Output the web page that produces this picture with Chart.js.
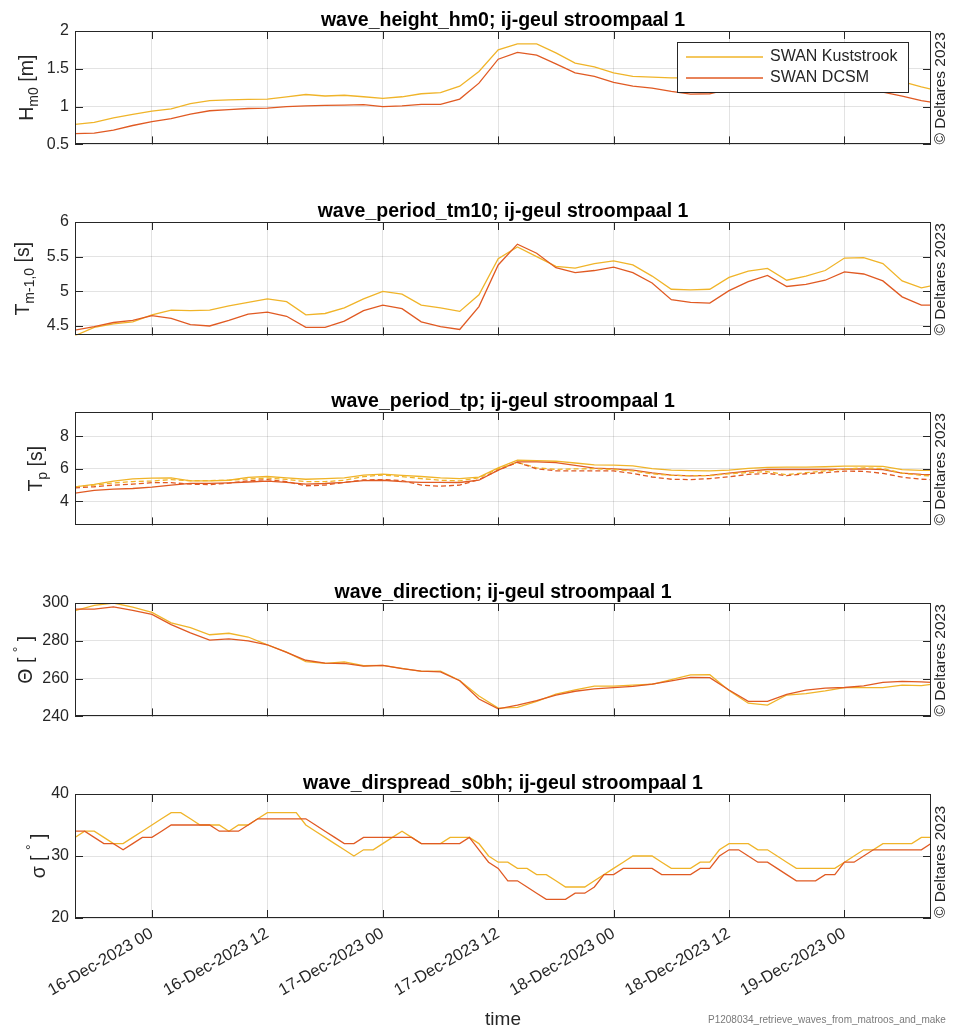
<!DOCTYPE html>
<html>
<head>
<meta charset="utf-8">
<script src="https://cdn.jsdelivr.net/npm/chart.js@4.4.1/dist/chart.umd.min.js"></script>
<style>
  html, body { margin: 0; padding: 0; background: #fff; }
  #wrap { position: relative; width: 955px; height: 1032px; overflow: hidden; }
  #wrap canvas { position: absolute; left: 0; }
</style>
</head>
<body>
<div id="wrap"></div>
<script>
// time in hours since 15-Dec-2023 16:00
const hours2 = [0,2,4,6,8,10,12,14,16,18,20,22,24,26,28,30,32,34,36,38,40,42,44,46,48,50,52,54,56,58,60,62,64,66,68,70,72,74,76,78,80,82,84,86,88,89];
const hours1 = [0,1,2,3,4,5,6,7,8,9,10,11,12,13,14,15,16,17,18,19,20,21,22,23,24,25,26,27,28,29,30,31,32,33,34,35,36,37,38,39,40,41,42,43,44,45,46,47,48,49,50,51,52,53,54,55,56,57,58,59,60,61,62,63,64,65,66,67,68,69,70,71,72,73,74,75,76,77,78,79,80,81,82,83,84,85,86,87,88,89];
const xTickHours = [8, 20, 32, 44, 56, 68, 80];
const xTickLabels = ['16-Dec-2023 00','16-Dec-2023 12','17-Dec-2023 00','17-Dec-2023 12','18-Dec-2023 00','18-Dec-2023 12','19-Dec-2023 00'];

const seriesNames = ['SWAN Kuststrook', 'SWAN DCSM'];

// wave_height_hm0 [m]
const hsKust = [0.764,0.79,0.85,0.897,0.94,0.97,1.04,1.08,1.09,1.095,1.10,1.13,1.16,1.14,1.15,1.13,1.11,1.13,1.17,1.185,1.27,1.465,1.75,1.83,1.83,1.71,1.575,1.525,1.445,1.40,1.39,1.38,1.38,1.40,1.42,1.44,1.45,1.46,1.46,1.45,1.43,1.40,1.37,1.33,1.26,1.23];
const hsDcsm = [0.642,0.65,0.69,0.75,0.80,0.84,0.90,0.945,0.96,0.975,0.98,1.0,1.01,1.015,1.02,1.027,1.0,1.01,1.03,1.03,1.10,1.31,1.627,1.716,1.68,1.566,1.445,1.40,1.32,1.27,1.245,1.20,1.165,1.17,1.23,1.28,1.30,1.31,1.31,1.30,1.28,1.25,1.19,1.14,1.08,1.06];

// wave_period_tm10 [s]
const tmKust = [4.36,4.48,4.53,4.56,4.66,4.73,4.72,4.73,4.79,4.84,4.89,4.85,4.66,4.68,4.76,4.89,5.0,4.96,4.80,4.76,4.71,4.95,5.47,5.64,5.50,5.36,5.335,5.40,5.44,5.38,5.22,5.03,5.02,5.03,5.20,5.29,5.33,5.16,5.22,5.30,5.48,5.485,5.40,5.15,5.05,5.08];
const tmDcsm = [4.44,4.49,4.55,4.58,4.65,4.61,4.52,4.50,4.58,4.67,4.70,4.64,4.48,4.48,4.57,4.72,4.80,4.75,4.56,4.49,4.45,4.78,5.38,5.68,5.55,5.34,5.27,5.30,5.35,5.27,5.12,4.88,4.84,4.83,5.01,5.14,5.23,5.07,5.10,5.16,5.28,5.25,5.15,4.92,4.80,4.80];

// wave_period_tp [s] (solid and dashed variants)
const tpKust = [4.89,5.05,5.25,5.38,5.43,5.45,5.26,5.26,5.30,5.47,5.53,5.45,5.36,5.40,5.45,5.62,5.68,5.60,5.53,5.45,5.40,5.49,6.06,6.53,6.51,6.47,6.36,6.25,6.23,6.19,6.02,5.92,5.89,5.87,5.92,6.03,6.09,6.11,6.11,6.13,6.17,6.17,6.15,5.95,5.91,5.91];
const tpDcsm = [4.51,4.68,4.75,4.79,4.87,5.0,5.11,5.11,5.14,5.19,5.25,5.17,5.06,5.10,5.17,5.28,5.30,5.22,5.17,5.17,5.16,5.30,5.92,6.43,6.43,6.38,6.22,6.05,6.0,5.92,5.75,5.62,5.57,5.60,5.74,5.86,5.96,5.96,5.96,5.96,5.99,6.0,5.95,5.74,5.66,5.64];
const tpKustDash = [4.89,5.0,5.13,5.22,5.25,5.34,5.27,5.28,5.30,5.38,5.43,5.35,5.21,5.21,5.30,5.52,5.62,5.52,5.40,5.30,5.26,5.45,6.0,6.40,6.06,5.97,6.0,6.01,5.96,5.87,5.70,5.60,5.58,5.58,5.70,5.77,5.83,5.64,5.77,5.87,5.99,6.06,6.02,5.74,5.60,5.57];
const tpDcsmDash = [4.83,4.90,5.0,5.06,5.15,5.15,5.06,5.03,5.12,5.27,5.34,5.21,4.96,5.0,5.17,5.32,5.34,5.28,5.0,4.93,5.0,5.34,5.92,6.40,6.0,5.88,5.87,5.87,5.87,5.72,5.50,5.36,5.34,5.40,5.51,5.66,5.72,5.58,5.70,5.77,5.86,5.85,5.72,5.49,5.36,5.34];

// wave_direction [deg]
const dirKust = [296,298.8,300,297.8,295,289.5,287,283.2,284,282,277.8,274,269,268.1,268.8,266.8,267,265.4,263.8,264,259,250.8,244.4,244.8,248,251.8,254,256,256,256.5,257,259.5,262,262.1,253.7,247,246,251.3,252.1,253.5,255.2,255.2,255.2,256.5,256.3,256.9];
const dirDcsm = [296.8,296.8,297.9,296.1,294,288.6,284.2,280.4,281,280,277.9,273.9,269.7,268.2,268,266.6,267,265.3,264,263.6,258.9,249.2,244,246,248.4,251.3,253.3,254.6,255.2,255.9,257.1,258.8,260.7,260.5,254,248,248,251.6,253.9,255,255.3,256.1,258,258.5,258.3,258];

// wave_dirspread_s0bh [deg], hourly
const spreadKust = [33,34,34,33,32,32,33,34,35,36,37,37,36,35,35,35,34,35,35,36,37,37,37,37,35,34,33,32,31,30,31,31,32,33,34,33,32,32,32,33,33,33,32,30,29,29,28,28,27,27,26,25,25,25,26,27,28,29,30,30,30,29,28,28,28,29,29,31,32,32,32,31,31,30,29,28,28,28,28,28,29,30,31,31,32,32,32,32,33,33];
const spreadDcsm = [34,34,33,32,32,31,32,33,33,34,35,35,35,35,35,34,34,34,35,36,36,36,36,36,36,35,34,33,32,32,33,33,33,33,33,33,32,32,32,32,32,33,31,29,28,26,26,25,24,23,23,23,24,24,25,27,27,28,28,28,28,27,27,27,27,28,28,30,31,31,30,29,29,28,27,26,26,26,27,27,29,29,30,31,31,31,31,31,31,32];

const C_KUST = '#F0B429';
const C_DCSM = '#E05A23';
const INK = '#262626';
const FONT = '"Liberation Sans", Arial, sans-serif';
const GRID = 'rgba(38,38,38,0.13)';

function pts(xs, ys) { return xs.map((x, i) => ({ x: x, y: ys[i] })); }

// draw text made of normal / sub / sup pieces, rotated -90deg, centred on (cx, cy)
function drawRotLabel(ctx, parts, cx, cy, size) {
  const small = Math.round(size * 0.72);
  ctx.save();
  ctx.translate(cx, cy);
  ctx.rotate(-Math.PI / 2);
  ctx.textBaseline = 'middle';
  ctx.textAlign = 'left';
  let w = 0;
  parts.forEach(p => {
    ctx.font = (p[1] === 'n' ? size : small) + 'px ' + FONT;
    w += ctx.measureText(p[0]).width;
  });
  let x = -w / 2;
  parts.forEach(p => {
    ctx.font = (p[1] === 'n' ? size : small) + 'px ' + FONT;
    const dy = p[1] === 'sub' ? size * 0.33 : (p[1] === 'sup' ? -size * 0.38 : 0);
    ctx.fillText(p[0], x, dy);
    x += ctx.measureText(p[0]).width;
  });
  ctx.restore();
}

const deco = {
  id: 'deco',
  afterDraw(chart, args, o) {
    const { ctx, chartArea: a, scales } = chart;
    ctx.save();
    ctx.fillStyle = INK;
    ctx.strokeStyle = INK;
    ctx.lineWidth = 1;

    // inward tick marks on all four sides
    const L = 8;
    ctx.beginPath();
    xTickHours.forEach(h => {
      const px = Math.round(scales.x.getPixelForValue(h)) + 0.5;
      ctx.moveTo(px, a.bottom); ctx.lineTo(px, a.bottom - L);
      ctx.moveTo(px, a.top); ctx.lineTo(px, a.top + L);
    });
    o.yTicks.forEach(v => {
      const py = Math.round(scales.y.getPixelForValue(v)) + 0.5;
      ctx.moveTo(a.left, py); ctx.lineTo(a.left + L, py);
      ctx.moveTo(a.right, py); ctx.lineTo(a.right - L, py);
    });
    ctx.stroke();

    // box
    ctx.strokeRect(Math.round(a.left) + 0.5, Math.round(a.top) + 0.5,
                   Math.round(a.right - a.left) - 1, Math.round(a.bottom - a.top) - 1);

    // title
    ctx.font = 'bold 19.5px ' + FONT;
    ctx.textAlign = 'center';
    ctx.textBaseline = 'alphabetic';
    ctx.fillStyle = '#000';
    ctx.fillText(o.title, (a.left + a.right) / 2, a.top - 5);

    // y label
    ctx.fillStyle = INK;
    drawRotLabel(ctx, o.ylab, o.ylabX, (a.top + a.bottom) / 2, 19.5);

    // copyright on the right
    ctx.save();
    ctx.translate(941, a.bottom);
    ctx.rotate(-Math.PI / 2);
    ctx.font = '15.5px ' + FONT;
    ctx.textAlign = 'left';
    ctx.textBaseline = 'middle';
    ctx.fillText('\u00A9 Deltares 2023', 0, 0);
    ctx.restore();

    if (o.legend) {
      const bx = 677, by = 42, bw = 232, bh = 51;
      ctx.fillStyle = '#fff';
      ctx.fillRect(bx, by, bw, bh);
      ctx.strokeStyle = INK;
      ctx.strokeRect(bx + 0.5, by + 0.5, bw - 1, bh - 1);
      const cols = [C_KUST, C_DCSM];
      ctx.font = '16px ' + FONT;
      ctx.textAlign = 'left';
      ctx.textBaseline = 'middle';
      seriesNames.forEach((n, i) => {
        const yy = 57 + i * 21;
        ctx.strokeStyle = cols[i];
        ctx.lineWidth = 1.3;
        ctx.beginPath(); ctx.moveTo(686, yy); ctx.lineTo(763, yy); ctx.stroke();
        ctx.fillStyle = INK;
        ctx.fillText(n, 770, yy);
      });
    }

    if (o.footer) {
      ctx.font = '10px ' + FONT;
      ctx.fillStyle = '#7a7a7a';
      ctx.textAlign = 'left';
      ctx.textBaseline = 'middle';
      ctx.fillText('P1208034_retrieve_waves_from_matroos_and_make', 708, chart.height - 12);
    }
    ctx.restore();
  }
};

const wrap = document.getElementById('wrap');

function panel(p) {
  const cv = document.createElement('canvas');
  cv.width = 955; cv.height = p.h;
  cv.style.top = p.top + 'px';
  cv.style.width = '955px'; cv.style.height = p.h + 'px';
  wrap.appendChild(cv);
  new Chart(cv, {
    type: 'line',
    data: {
      datasets: p.sets.map(s => ({
        label: s.label, data: pts(s.x, s.y), borderColor: s.color, borderWidth: 1.3,
        borderDash: s.dash || [], pointRadius: 0, tension: 0, fill: false, order: s.order
      }))
    },
    options: {
      responsive: false, animation: false,
      layout: { padding: { left: 0, right: 24, top: 31, bottom: p.padBottom } },
      plugins: {
        legend: { display: false }, tooltip: { enabled: false },
        deco: { title: p.title, ylab: p.ylab, ylabX: p.ylabX, yTicks: p.yTicks, legend: !!p.legend, footer: !!p.footer }
      },
      scales: {
        x: {
          type: 'linear', min: 0, max: 89,
          afterBuildTicks: s => { s.ticks = xTickHours.map(v => ({ value: v })); },
          afterFit: s => { s.height = p.xh; },
          grid: { color: GRID, drawTicks: false },
          border: { display: false },
          ticks: {
            display: !!p.footer, autoSkip: false, minRotation: 30, maxRotation: 30, padding: 6,
            color: INK, font: { family: FONT, size: 16.5 },
            callback: v => xTickLabels[xTickHours.indexOf(v)]
          },
          title: { display: !!p.footer, text: 'time', color: INK, font: { family: FONT, size: 19 }, padding: { top: 0, bottom: 1 } }
        },
        y: {
          min: p.ymin, max: p.ymax,
          afterBuildTicks: s => { s.ticks = p.yTicks.map(v => ({ value: v })); },
          afterFit: s => { s.width = 75; },
          grid: { color: GRID, drawTicks: false },
          border: { display: false },
          ticks: { color: INK, padding: 6, font: { family: FONT, size: 16 }, callback: v => String(v) }
        }
      }
    },
    plugins: [deco]
  });
}

panel({
  top: 0, h: 160, padBottom: 6, xh: 0, legend: true,
  title: 'wave_height_hm0; ij-geul stroompaal 1',
  ylab: [['H', 'n'], ['m0', 'sub'], [' [m]', 'n']], ylabX: 28,
  ymin: 0.5, ymax: 2, yTicks: [0.5, 1, 1.5, 2],
  sets: [
    { label: seriesNames[0], x: hours2, y: hsKust, color: C_KUST, order: 2 },
    { label: seriesNames[1], x: hours2, y: hsDcsm, color: C_DCSM, order: 1 }
  ]
});
panel({
  top: 191, h: 160, padBottom: 5, xh: 0,
  title: 'wave_period_tm10; ij-geul stroompaal 1',
  ylab: [['T', 'n'], ['m-1,0', 'sub'], [' [s]', 'n']], ylabX: 24,
  ymin: 4.364, ymax: 6, yTicks: [4.5, 5, 5.5, 6],
  sets: [
    { label: seriesNames[0], x: hours2, y: tmKust, color: C_KUST, order: 2 },
    { label: seriesNames[1], x: hours2, y: tmDcsm, color: C_DCSM, order: 1 }
  ]
});
panel({
  top: 381, h: 160, padBottom: 5, xh: 0,
  title: 'wave_period_tp; ij-geul stroompaal 1',
  ylab: [['T', 'n'], ['p', 'sub'], [' [s]', 'n']], ylabX: 37,
  ymin: 2.52, ymax: 9.5, yTicks: [4, 6, 8],
  sets: [
    { label: seriesNames[0], x: hours2, y: tpKust, color: C_KUST, order: 4 },
    { label: seriesNames[1], x: hours2, y: tpDcsm, color: C_DCSM, order: 3 },
    { label: seriesNames[0] + ' (dashed)', x: hours2, y: tpKustDash, color: C_KUST, dash: [5, 3], order: 2 },
    { label: seriesNames[1] + ' (dashed)', x: hours2, y: tpDcsmDash, color: C_DCSM, dash: [5, 3], order: 1 }
  ]
});
panel({
  top: 572, h: 160, padBottom: 5, xh: 0,
  title: 'wave_direction; ij-geul stroompaal 1',
  ylab: [['\u0398 [ ', 'n'], ['\u00B0', 'sup'], [' ]', 'n']], ylabX: 27,
  ymin: 240, ymax: 300, yTicks: [240, 260, 280, 300],
  sets: [
    { label: seriesNames[0], x: hours2, y: dirKust, color: C_KUST, order: 2 },
    { label: seriesNames[1], x: hours2, y: dirDcsm, color: C_DCSM, order: 1 }
  ]
});
panel({
  top: 763, h: 269, padBottom: 0, xh: 114, footer: true,
  title: 'wave_dirspread_s0bh; ij-geul stroompaal 1',
  ylab: [['\u03C3 [ ', 'n'], ['\u00B0', 'sup'], [' ]', 'n']], ylabX: 40,
  ymin: 20, ymax: 40, yTicks: [20, 30, 40],
  sets: [
    { label: seriesNames[0], x: hours1, y: spreadKust, color: C_KUST, order: 2 },
    { label: seriesNames[1], x: hours1, y: spreadDcsm, color: C_DCSM, order: 1 }
  ]
});
</script>
</body>
</html>
